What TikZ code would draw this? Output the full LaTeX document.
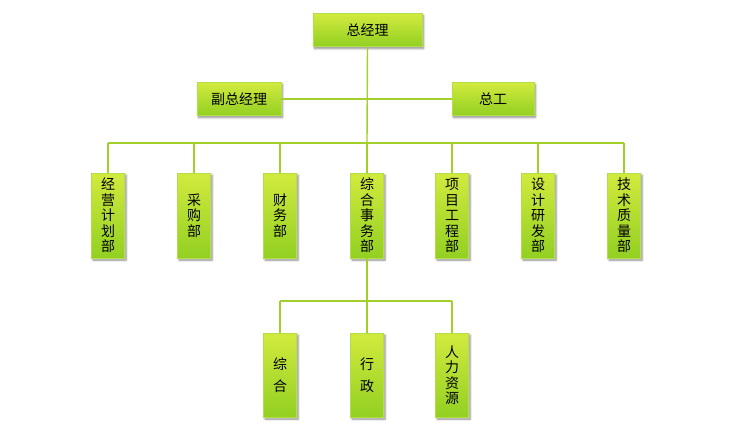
\documentclass[tikz,border=0pt]{standalone}
\usepackage{fontspec}
\setmainfont{Noto Sans CJK SC}
\usetikzlibrary{shadows.blur}
\definecolor{boxtop}{HTML}{D2EA3E}
\definecolor{boxbot}{HTML}{92D022}
\definecolor{boxline}{HTML}{B4DE48}
\definecolor{conn}{HTML}{A2CF2A}
\tikzset{
  orgbox/.style={rectangle, inner sep=0pt, top color=boxtop, bottom color=boxbot,
    draw=boxline, line width=0.5pt,
    blur shadow={shadow xshift=1.5pt, shadow yshift=-2pt, shadow blur steps=6, shadow opacity=45},
    font=\fontsize{14}{15.5}\selectfont, align=center},
  hbox/.style={orgbox, minimum height=33pt},
  vbox/.style={orgbox, minimum width=33pt, minimum height=85pt},
  conn/.style={draw=conn, line width=1.4pt}
}
\begin{document}
\begin{tikzpicture}[x=1pt,y=-1pt]
\useasboundingbox (0,0) rectangle (740,439);
% top level
\node[hbox, minimum width=109pt] (gm) at (367.5,30) {总经理};
\node[hbox, minimum width=84pt] (vgm) at (239,99) {副总经理};
\node[hbox, minimum width=82pt] (ce) at (493,99) {总工};
% departments
\node[vbox] (d1) at (108,215.5) {经\\营\\计\\划\\部};
\node[vbox] (d2) at (194,215.5) {采\\购\\部};
\node[vbox] (d3) at (280,215.5) {财\\务\\部};
\node[vbox] (d4) at (367,215.5) {综\\合\\事\\务\\部};
\node[vbox] (d5) at (452,215.5) {项\\目\\工\\程\\部};
\node[vbox] (d6) at (538,215.5) {设\\计\\研\\发\\部};
\node[vbox] (d7) at (624,215.5) {技\\术\\质\\量\\部};
% sub units
\node[vbox, minimum height=84pt] (s1) at (280,375) {综\\[6pt]合};
\node[vbox, minimum height=84pt] (s2) at (367,375) {行\\[6pt]政};
\node[vbox, minimum height=84pt] (s3) at (452,375) {人\\力\\资\\源};
% bus coordinates
\coordinate (busL) at (108,143);
\coordinate (busR) at (624,143);
\coordinate (busM) at (367,143);
\coordinate (sbL) at (280,301);
\coordinate (sbR) at (452,301);
\coordinate (sbM) at (367,301);
% connectors
\draw[conn] (gm.south) -- (busM);
\draw[conn] (vgm.east) -- (ce.west);
\draw[conn] (busL) -- (busR);
\foreach \n in {d1,d2,d3,d5,d6,d7}{
  \draw[conn] (\n.north |- busM) -- (\n.north);
}
\draw[conn] (busM) -- (d4.north);
\draw[conn] (d4.south) -- (sbM);
\draw[conn] (sbL) -- (sbR);
\draw[conn] (sbL) -- (s1.north);
\draw[conn] (sbM) -- (s2.north);
\draw[conn] (sbR) -- (s3.north);
\end{tikzpicture}
\end{document}
